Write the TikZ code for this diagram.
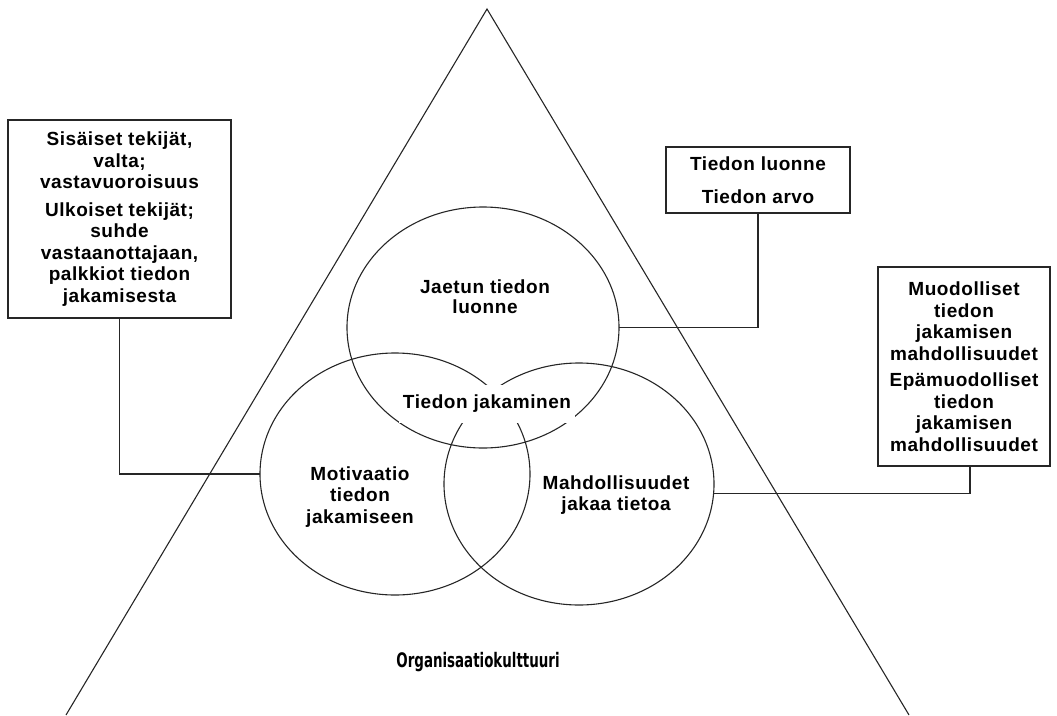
\documentclass[tikz,border=0pt]{standalone}
\usepackage{fontspec}
\usetikzlibrary{shapes.geometric}
\newfontfamily\lab[LetterSpace=3]{Liberation Sans}
\newfontfamily\dvs{DejaVu Sans}
\tikzset{
  ln/.style={draw=black!85, line width=1.1pt},
  venn/.style={ln, ellipse, inner sep=0pt, outer sep=0pt},
  txt/.style={align=center, inner sep=0pt, font={\lab\bfseries\fontsize{19}{21.5}\selectfont}},
  boxtxt/.style={txt, ln, rectangle, fill=white}
}
\begin{document}
\begin{tikzpicture}[x=1pt, y=-1pt]
\useasboundingbox (0,0) rectangle (1057,715);
% triangle
\coordinate (tl) at (66,715);
\coordinate (tt) at (487,9);
\coordinate (tr) at (909,715);
\draw[ln] (tl) -- (tt) -- (tr);
% circles
\node[venn, minimum width=272pt, minimum height=241pt] (tc) at (483,327.5) {};
\node[venn, minimum width=270pt, minimum height=242pt] (lc) at (395,474) {};
\node[venn, minimum width=270pt, minimum height=242pt] (rc) at (579,484) {};
% circle texts
\node[txt, font={\lab\bfseries\fontsize{19}{20}\selectfont}] (tct) at (485,297) {Jaetun tiedon\\luonne};
\node[txt, fill=white, inner xsep=4pt, minimum height=38pt] (mid) at (487,404) {Tiedon jakaminen};
\node[txt] (lct) at (360,497) {Motivaatio\\tiedon\\jakamiseen};
\node[txt] (rct) at (616,495) {Mahdollisuudet\\jakaa tietoa};
% boxes
\node[boxtxt, minimum width=223pt, minimum height=198pt] (lbox) at (119.5,219)
  {Sisäiset tekijät,\\valta;\\vastavuoroisuus\\[6pt]Ulkoiset tekijät;\\suhde\\vastaanottajaan,\\palkkiot tiedon\\jakamisesta};
\node[boxtxt, minimum width=184pt, minimum height=66pt] (tbox) at (758,180)
  {Tiedon luonne\\[11pt]Tiedon arvo};
\node[boxtxt, minimum width=172pt, minimum height=199pt] (rbox) at (964,366.5)
  {Muodolliset\\tiedon\\jakamisen\\mahdollisuudet\\[5pt]Epämuodolliset\\tiedon\\jakamisen\\mahdollisuudet};
% connectors
\coordinate (rtap) at (970,0);
\draw[ln] (lbox.south) |- (lc.west);
\draw[ln] (tbox.south) |- (tc.east);
\draw[ln] (rbox.south -| rtap) |- (rc.-4);
% bottom label
\node[inner sep=0pt, font={\dvs\bfseries\fontsize{20}{22}\selectfont}] (org) at (478,662)
  {\scalebox{0.67}[1]{Organisaatiokulttuuri}};
\end{tikzpicture}
\end{document}
